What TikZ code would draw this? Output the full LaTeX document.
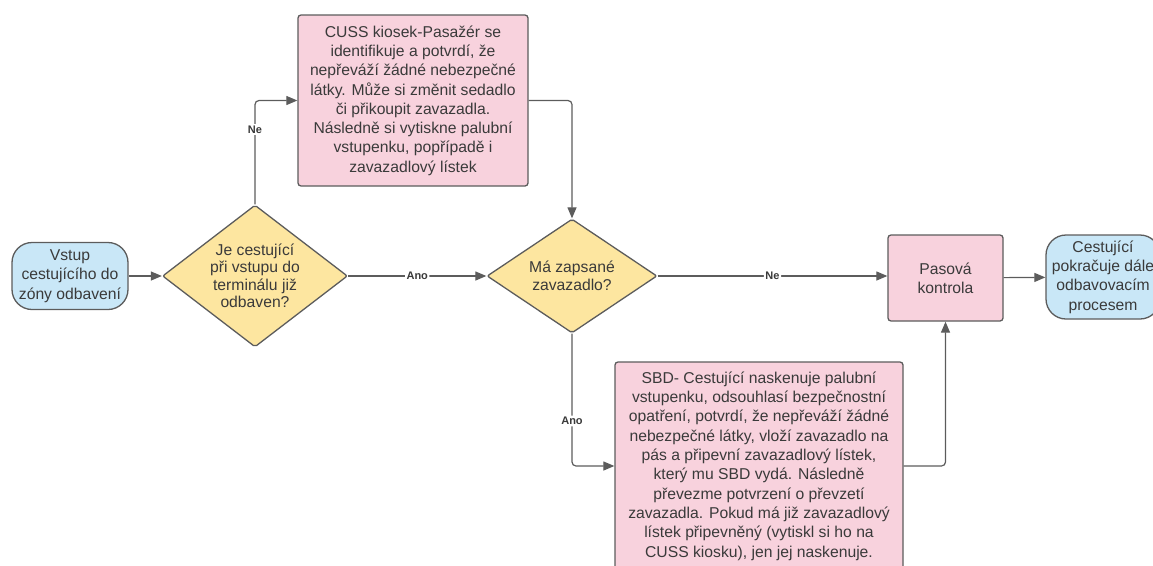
\documentclass[tikz,border=0pt]{standalone}
\usepackage{fontspec}
\setmainfont{Liberation Sans}
\usepackage{xcolor}
\usepackage{tikz}
\usetikzlibrary{positioning,arrows.meta,shapes.geometric}
\definecolor{TermBlue}{HTML}{C9E7F7}
\definecolor{StepPink}{HTML}{F8D2DD}
\definecolor{AskYellow}{HTML}{FDE6A0}
\definecolor{LineGray}{HTML}{5C5C5C}
\definecolor{TextDark}{HTML}{3A3A3A}

\begin{document}
\begin{tikzpicture}[x=1pt,y=-1pt,
    every node/.style={font=\fontsize{15.7}{19.3}\selectfont, text=TextDark, align=center},
    terminal/.style={draw=LineGray, line width=1.3pt, fill=TermBlue, rounded corners=20pt, inner sep=0pt},
    stepbox/.style={draw=LineGray, line width=1.3pt, fill=StepPink, rounded corners=3pt, inner sep=0pt},
    decision/.style={diamond, draw=LineGray, line width=1.3pt, fill=AskYellow, rounded corners=2pt,
      inner sep=-16pt, font=\fontsize{15.7}{17.5}\selectfont},
    flow/.style={draw=LineGray, line width=1.2pt, -{Triangle[length=11pt,width=9pt]}, rounded corners=4pt},
    answer/.style={font=\fontsize{11}{13}\selectfont\bfseries, fill=white, inner sep=1.5pt}
  ]
  \useasboundingbox (0,0) rectangle (1153,565);

  % nodes
  \node[terminal, minimum width=116pt, minimum height=67pt] (start) at (70,276)
    {Vstup\\ cestujícího do\\ zóny odbavení};
  \node[decision, minimum width=185pt, minimum height=142pt] (checked) at (255,276)
    {Je cestující\\ při vstupu do\\ terminálu již\\ odbaven?};
  \node[stepbox, minimum width=230pt, minimum height=171pt] (cuss) at (413,100.5)
    {CUSS kiosek-Pasažér se\\ identifikuje a potvrdí, že\\ nepřeváží žádné nebezpečné\\
     látky. Může si změnit sedadlo\\ či přikoupit zavazadla.\\ Následně si vytiskne palubní\\
     vstupenku, popřípadě i\\ zavazadlový lístek};
  \node[decision, minimum width=170pt, minimum height=114pt] (bag) at (572,276)
    {Má zapsané\\ zavazadlo?};
  \node[stepbox, minimum width=288pt, minimum height=208pt] (sbd) at (759,466)
    {SBD- Cestující naskenuje palubní\\ vstupenku, odsouhlasí bezpečnostní\\
     opatření, potvrdí, že nepřeváží žádné\\ nebezpečné látky, vloží zavazadlo na\\
     pás a připevní zavazadlový lístek,\\ který mu SBD vydá. Následně\\
     převezme potvrzení o převzetí\\ zavazadla. Pokud má již zavazadlový\\
     lístek připevněný (vytiskl si ho na\\ CUSS kiosku), jen jej naskenuje.};
  \node[stepbox, minimum width=115pt, minimum height=86pt] (passport) at (945.5,278)
    {Pasová\\ kontrola};
  \node[terminal, minimum width=114pt, minimum height=84pt] (finish) at (1103,277)
    {Cestující\\ pokračuje dále\\ odbavovacím\\ procesem};

  % connectors
  \draw[flow] (start) -- (checked);
  \draw[flow] (checked.north) |- node[answer, pos=0.36] {Ne} (cuss.west);
  \draw[flow] (checked.east) -- node[answer] {Ano} (bag.west);
  \draw[flow] (cuss.east) -| (bag.north);
  \draw[flow] (bag.east) -- node[answer] {Ne} (passport.west |- bag.east);
  \draw[flow] (bag.south) |- node[answer, pos=0.33] {Ano} (sbd.west);
  \draw[flow] (sbd.east) -| (passport.south);
  \draw[flow] (passport) -- (finish);
\end{tikzpicture}
\end{document}
